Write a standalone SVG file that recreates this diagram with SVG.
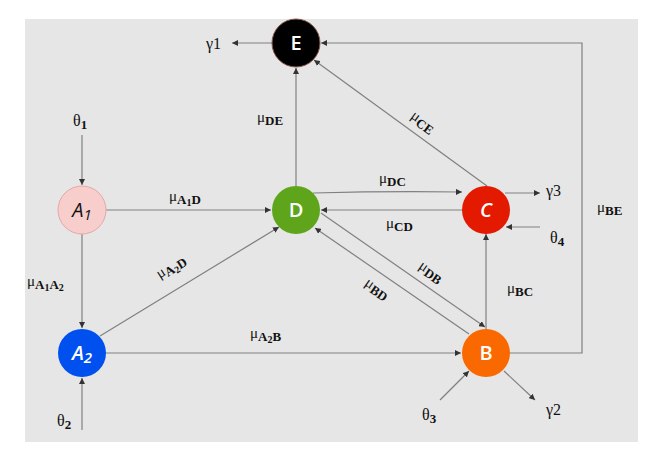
<svg xmlns="http://www.w3.org/2000/svg" width="652" height="451" viewBox="0 0 652 451">
<defs>
<marker id="ah" markerUnits="userSpaceOnUse" markerWidth="7" markerHeight="6" refX="6" refY="3" orient="auto">
<path d="M0,0 L6,3 L0,6 z" fill="#333"/>
</marker>
<style>
.e{stroke:#808080;stroke-width:1.2;fill:none;marker-end:url(#ah)}
.t{font-family:"Liberation Serif",serif;font-size:15px;fill:#111}
.g{font-size:16px}
.s{font-size:13px;font-weight:bold}
.ss{font-size:10px;font-weight:bold}
.n{font-family:"Open Sans","DejaVu Sans",sans-serif;font-size:20px;font-weight:600;text-anchor:middle;fill:#fff}
</style>
</defs>
<rect x="0" y="0" width="652" height="451" fill="#fff"/>
<rect x="25" y="19" width="613" height="423" fill="#e6e6e6"/>
<g id="connectors">
<line class="e" x1="272" y1="43" x2="232" y2="43"/>
<line class="e" x1="82" y1="135" x2="82" y2="185"/>
<line class="e" x1="106" y1="210" x2="271" y2="210"/>
<line class="e" x1="296" y1="186" x2="296" y2="68"/>
<path class="e" d="M313,193 Q390,191 462,192"/>
<line class="e" x1="462" y1="210" x2="321" y2="210"/>
<line class="e" x1="505" y1="193" x2="540" y2="193"/>
<line class="e" x1="540" y1="227" x2="506" y2="227"/>
<line class="e" x1="487" y1="186" x2="314" y2="60"/>
<polyline class="e" points="510,353 582,353 582,43 321,43"/>
<line class="e" x1="486" y1="329" x2="486" y2="234"/>
<line class="e" x1="321" y1="213" x2="485" y2="327"/>
<line class="e" x1="469" y1="334" x2="315" y2="228"/>
<line class="e" x1="100" y1="336" x2="279" y2="227"/>
<line class="e" x1="106" y1="353" x2="461" y2="353"/>
<line class="e" x1="82" y1="430" x2="82" y2="378"/>
<line class="e" x1="82" y1="234" x2="82" y2="328"/>
<line class="e" x1="440" y1="400" x2="469" y2="371"/>
<line class="e" x1="504" y1="371" x2="535" y2="400"/>
</g>
<g id="labels">
<text class="t g" x="206" y="49">γ1</text>
<text class="t g" x="73" y="126">θ<tspan class="s" dy="3">1</tspan></text>
<text class="t" x="257" y="122">μ<tspan class="s" dy="3">DE</tspan></text>
<text class="t" x="169" y="201">μ<tspan class="s" dy="3">A</tspan><tspan class="ss" dy="2">1</tspan><tspan class="s" dy="-2">D</tspan></text>
<text class="t" x="27" y="286">μ<tspan class="s" dy="3">A</tspan><tspan class="ss" dy="2">1</tspan><tspan class="s" dy="-2">A</tspan><tspan class="ss" dy="2">2</tspan></text>
<text class="t" x="250" y="338">μ<tspan class="s" dy="3">A</tspan><tspan class="ss" dy="2">2</tspan><tspan class="s" dy="-2">B</tspan></text>
<text class="t g" x="57" y="426">θ<tspan class="s" dy="3">2</tspan></text>
<text class="t" x="379" y="183">μ<tspan class="s" dy="3">DC</tspan></text>
<text class="t g" x="546" y="196">γ3</text>
<text class="t" x="597" y="212">μ<tspan class="s" dy="3">BE</tspan></text>
<text class="t" x="386" y="228">μ<tspan class="s" dy="3">CD</tspan></text>
<text class="t g" x="550" y="243">θ<tspan class="s" dy="3">4</tspan></text>
<text class="t" x="507" y="293">μ<tspan class="s" dy="3">BC</tspan></text>
<text class="t g" x="422" y="420">θ<tspan class="s" dy="3">3</tspan></text>
<text class="t g" x="546" y="415">γ2</text>
<text class="t" transform="translate(423,122) rotate(36)" text-anchor="middle" y="4">μ<tspan class="s" dy="3">CE</tspan></text>
<text class="t" transform="translate(171,267) rotate(-32)" text-anchor="middle" y="4">μ<tspan class="s" dy="3">A</tspan><tspan class="ss" dy="2">2</tspan><tspan class="s" dy="-2">D</tspan></text>
<text class="t" transform="translate(431,272) rotate(35)" text-anchor="middle" y="4">μ<tspan class="s" dy="3">DB</tspan></text>
<text class="t" transform="translate(377,289) rotate(35)" text-anchor="middle" y="4">μ<tspan class="s" dy="3">BD</tspan></text>
</g>
<g id="node-E">
<circle cx="296" cy="43" r="24" fill="#000" stroke="#8a5a4a" stroke-width="1"/>
<text class="n" x="296" y="50">E</text>
</g>
<g id="node-A1">
<circle cx="82" cy="210" r="24" fill="#f8cecc" stroke="#e4a8a6" stroke-width="1"/>
<text class="n" x="82" y="217" style="fill:#111;font-style:italic;font-weight:normal">A<tspan font-size="15" dy="3">1</tspan></text>
</g>
<g id="node-D">
<circle cx="296" cy="210" r="24" fill="#5ea51c"/>
<text class="n" x="296" y="217">D</text>
</g>
<g id="node-C">
<circle cx="486" cy="210" r="24" fill="#e31a00"/>
<text class="n" x="486" y="217" style="font-style:italic">C</text>
</g>
<g id="node-A2">
<circle cx="82" cy="353" r="24" fill="#0050ef"/>
<text class="n" x="82" y="360" style="font-style:italic">A<tspan font-size="15" dy="3">2</tspan></text>
</g>
<g id="node-B">
<circle cx="486" cy="353" r="24" fill="#fa6800"/>
<text class="n" x="486" y="360">B</text>
</g>
</svg>
